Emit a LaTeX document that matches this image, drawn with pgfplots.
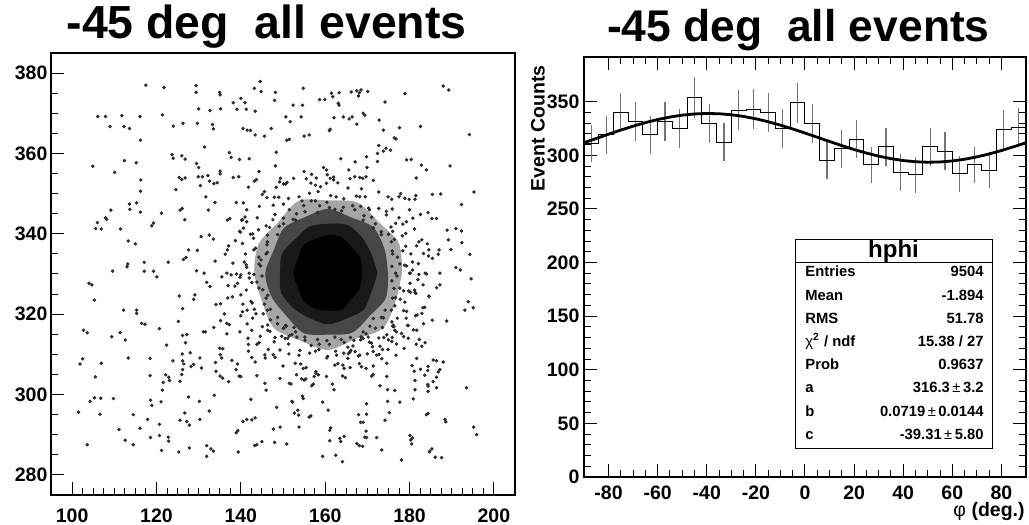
\documentclass[border=0pt]{standalone}
\usepackage{fontspec}
\setmainfont{Liberation Sans}
\usepackage{pgfplots}
\pgfplotsset{compat=1.18}
\usepackage{pgfplotstable}

\newcommand\tickfont{\fontsize{9.75pt}{11pt}\selectfont\bfseries}
\newcommand\statfont{\fontsize{7.4pt}{9pt}\selectfont\bfseries}

% scatter points (x, y)
\pgfplotstableread{
x y
117.5 377.0
121.8 376.4
129.4 376.9
129.4 375.2
135.0 375.2
135.1 374.6
144.6 377.9
144.8 375.4
143.2 376.2
148.2 375.2
154.8 376.2
158.7 373.4
159.9 373.4
161.5 375.0
161.8 374.1
163.3 375.1
166.2 375.3
167.5 375.6
168.1 375.1
168.5 375.8
170.1 375.4
167.9 374.3
188.0 376.8
189.3 375.8
178.9 374.9
174.2 372.8
138.2 372.6
140.0 373.7
141.0 372.6
141.3 371.0
143.4 370.5
148.0 373.2
152.4 372.0
154.6 372.0
163.1 372.5
163.3 372.0
130.0 371.1
132.7 370.7
135.2 371.1
139.1 371.0
106.1 369.2
107.9 369.2
111.8 369.4
116.1 369.2
121.4 369.6
109.0 366.7
112.3 366.7
113.6 366.2
116.2 363.3
124.0 366.8
126.3 367.5
129.7 367.5
133.3 367.2
133.5 366.1
140.5 366.2
141.5 365.8
142.3 365.7
143.4 364.6
147.2 366.2
145.6 364.3
150.7 369.1
151.7 367.9
154.3 369.1
150.9 363.3
151.5 363.5
155.0 364.3
156.2 364.6
161.0 365.7
161.2 366.0
162.1 368.9
164.3 369.1
165.7 368.6
166.4 369.1
167.5 367.3
169.0 370.0
169.4 369.5
172.8 368.3
173.8 365.8
176.4 363.9
176.8 363.6
177.6 366.4
182.6 366.7
194.2 364.7
104.9 356.8
110.1 355.3
112.4 358.2
115.2 357.7
116.3 353.4
116.2 350.6
113.6 347.4
113.7 346.1
115.3 347.7
116.2 345.4
109.2 345.9
107.9 344.0
108.2 343.6
106.0 342.8
105.6 341.3
106.9 341.2
111.5 341.2
113.3 338.2
115.0 337.5
119.3 342.7
118.9 342.0
121.2 345.1
123.7 359.7
124.0 358.8
126.0 359.4
126.8 358.6
124.6 351.0
125.4 354.0
126.0 353.5
126.8 353.9
125.6 345.9
126.1 346.3
126.7 343.5
129.5 357.5
130.0 356.5
131.4 361.6
129.9 354.2
130.9 354.2
132.2 354.5
132.6 353.1
133.6 352.5
134.4 352.7
130.4 352.0
131.7 349.2
135.1 355.6
135.1 354.9
133.9 347.8
132.3 345.9
137.3 360.2
137.7 359.0
139.7 358.5
142.0 358.7
138.2 354.0
139.5 354.2
141.8 351.6
143.2 353.1
143.7 353.5
144.3 355.5
138.9 347.8
140.6 347.7
145.1 349.8
145.6 350.5
147.9 349.1
148.4 351.6
150.1 352.4
150.6 352.4
151.0 352.8
149.4 353.8
148.4 360.3
148.2 356.9
156.6 352.6
156.8 354.8
155.0 355.5
159.6 356.5
160.5 354.7
161.2 353.8
162.0 354.1
162.0 353.4
157.7 352.1
158.9 351.7
163.7 358.7
165.6 355.9
167.1 357.9
167.0 354.2
168.6 351.2
168.2 354.0
169.7 354.2
169.9 356.5
169.8 359.2
172.7 362.0
173.8 360.6
172.4 358.0
172.4 360.0
174.4 361.3
175.5 360.8
179.3 358.4
180.4 358.5
181.6 353.9
182.8 357.1
184.0 355.9
185.4 349.8
187.4 349.9
189.6 356.9
195.3 350.4
192.3 347.3
177.9 350.0
178.9 348.8
179.9 348.6
181.3 348.6
181.5 349.5
175.8 348.6
177.5 349.2
176.7 342.6
178.4 342.4
179.3 343.0
182.6 344.8
184.4 345.3
185.3 343.8
186.4 343.8
188.9 340.9
192.3 340.7
191.0 341.3
189.2 338.5
192.4 337.8
194.3 334.9
186.8 334.9
187.0 336.0
189.8 336.1
191.0 331.6
192.0 331.0
194.6 328.8
187.2 330.2
183.3 335.1
184.5 334.5
185.4 333.9
182.9 338.5
184.2 337.5
180.7 331.0
182.2 329.9
184.0 330.0
179.3 332.0
104.0 327.7
104.7 327.3
109.6 330.7
113.0 331.8
113.2 332.5
117.1 330.7
117.1 332.9
119.3 330.7
120.1 329.3
122.8 332.9
126.4 333.6
127.0 334.1
127.6 336.0
129.7 335.9
130.6 339.3
132.5 339.7
133.5 338.7
129.5 330.8
131.3 330.2
133.9 333.2
136.3 334.9
137.1 337.0
138.7 338.3
136.8 343.4
137.4 343.8
140.2 343.4
141.0 344.2
141.4 343.0
139.7 340.6
140.6 341.4
142.3 339.9
135.5 329.3
136.7 330.2
139.8 329.2
138.6 327.0
139.2 327.7
141.4 331.7
142.0 330.2
144.8 333.5
105.3 323.5
112.2 321.0
115.3 321.0
115.3 320.2
116.5 317.7
117.3 317.5
102.7 316.0
103.6 315.4
111.4 315.4
109.4 314.4
112.6 313.6
120.7 316.4
102.5 308.9
101.9 307.6
106.9 307.8
113.3 309.1
105.5 304.4
104.3 298.3
105.3 299.2
106.8 299.1
109.8 299.0
101.5 295.6
106.6 295.1
111.1 291.3
114.5 295.0
103.6 287.5
112.6 288.6
114.5 287.5
116.1 291.6
117.9 293.8
118.6 298.6
118.9 297.3
118.5 304.7
118.5 309.0
118.6 289.3
120.7 292.6
120.7 289.8
121.2 286.1
121.1 298.2
121.4 301.1
121.6 303.0
122.2 304.9
122.9 304.3
123.1 303.5
122.4 312.3
122.8 289.4
122.9 288.4
123.9 308.4
125.2 318.2
126.2 321.4
125.4 324.5
125.6 303.3
126.0 305.0
126.2 308.4
126.5 307.6
126.2 306.2
126.2 314.7
127.2 314.9
126.9 312.9
126.1 310.1
126.7 295.4
127.2 293.3
125.6 293.6
125.3 285.7
127.6 299.4
127.8 292.4
127.8 286.7
128.0 310.4
128.8 307.5
128.2 307.0
128.8 323.7
129.1 324.8
130.3 309.1
130.7 306.6
131.1 315.6
131.6 315.6
130.2 298.3
130.3 293.8
131.9 287.3
132.9 286.5
133.5 285.9
131.9 284.6
132.5 295.9
133.7 299.8
131.9 327.9
132.7 326.9
133.6 316.7
134.0 308.0
134.1 305.8
135.0 311.5
135.7 311.4
135.1 309.9
135.5 309.1
135.1 304.6
135.7 304.1
134.1 322.4
135.2 322.6
135.2 318.4
136.1 320.1
136.7 317.7
137.3 317.4
136.7 315.1
137.1 303.2
138.0 324.3
137.9 308.5
138.9 306.2
139.2 307.6
139.8 315.6
139.6 304.6
140.0 304.5
138.9 290.5
139.3 291.0
139.4 285.7
140.5 293.3
141.4 293.8
142.6 293.7
142.4 298.8
143.4 294.2
142.6 309.2
143.4 308.1
143.3 287.3
143.8 287.5
143.8 304.7
140.4 320.6
141.5 321.0
141.8 312.5
141.8 310.8
142.6 316.0
143.6 320.1
144.3 312.9
144.6 314.5
145.7 309.9
145.8 309.1
145.7 302.8
146.0 301.1
145.0 288.3
146.4 316.0
147.7 309.9
148.1 309.3
147.7 291.4
148.0 288.1
148.5 296.8
149.3 291.9
149.3 304.0
149.7 314.5
150.5 314.0
150.1 316.5
150.6 317.2
151.5 314.6
152.1 314.9
150.9 287.7
151.5 302.8
151.9 302.6
152.1 298.3
152.3 298.1
152.7 295.4
153.2 304.9
153.5 296.1
153.7 294.9
154.6 299.6
154.8 299.0
153.8 291.9
154.4 303.9
154.2 307.6
154.8 306.5
155.0 303.6
155.4 303.9
156.2 294.4
156.6 294.7
156.8 302.2
157.2 302.6
157.4 304.5
157.8 305.7
158.4 304.9
159.4 298.1
159.4 284.6
160.7 296.1
161.1 291.1
161.3 291.7
161.1 288.5
161.7 302.6
162.1 301.2
162.3 307.3
162.5 284.9
162.5 310.8
163.5 289.1
163.7 288.3
164.1 283.3
164.5 289.6
164.2 307.3
164.5 306.5
164.1 304.6
164.8 304.2
165.4 311.8
165.9 310.6
166.1 311.0
165.5 310.2
167.5 287.8
168.1 287.3
168.9 287.1
167.9 295.0
168.4 293.1
169.0 293.1
168.6 306.9
169.7 306.5
169.7 290.9
169.8 297.7
169.8 295.1
169.4 289.4
169.8 289.3
170.2 314.3
171.0 304.6
171.4 305.0
172.2 289.3
173.0 302.2
173.4 286.2
174.2 293.6
174.6 304.5
174.8 298.3
174.8 301.2
174.6 307.8
175.2 295.5
176.5 301.0
176.8 309.8
177.7 298.1
178.1 283.7
178.7 311.5
180.1 289.8
180.3 288.7
180.7 289.2
180.5 287.7
180.6 307.2
180.9 298.9
181.3 301.2
181.1 305.8
181.7 309.0
181.3 303.5
182.6 306.3
183.6 304.8
184.0 295.0
184.4 295.3
184.4 307.0
184.3 306.0
184.3 302.5
184.4 302.1
184.4 300.8
184.8 285.9
185.3 286.5
184.7 285.7
185.6 308.6
186.4 308.4
185.6 303.2
186.4 304.3
186.1 284.4
187.6 284.3
186.4 301.7
186.8 305.6
187.2 306.2
188.0 308.1
188.4 293.8
188.6 293.2
188.8 318.3
193.5 301.7
193.1 321.0
195.1 321.6
193.9 323.1
195.2 291.9
195.9 290.0
182.9 312.0
183.7 312.9
181.6 312.5
182.3 313.7
183.3 317.6
180.9 316.1
181.7 316.0
181.8 319.8
182.9 320.2
185.4 318.5
186.4 326.6
187.2 327.3
183.6 321.7
184.6 324.5
180.2 325.4
181.3 325.4
178.6 325.8
179.8 325.8
178.6 320.9
179.5 317.2
178.1 315.2
178.6 314.4
176.5 316.0
176.9 315.6
175.8 318.1
176.1 317.3
174.6 314.9
175.0 313.6
175.8 313.2
176.9 312.6
173.0 312.0
173.6 311.2
172.2 309.8
172.8 310.0
171.2 311.9
171.4 310.7
168.5 314.4
169.0 314.0
167.1 310.7
167.9 309.6
177.0 329.5
180.0 330.2
182.0 328.6
177.7 332.5
180.7 333.0
176.0 335.0
178.4 335.8
181.7 337.0
175.7 338.0
178.3 339.5
173.3 339.8
175.6 341.7
171.9 342.5
174.5 345.6
169.0 343.4
170.5 346.0
167.0 346.0
168.2 349.2
163.9 345.7
164.4 348.7
161.0 346.5
161.3 349.5
158.2 345.3
157.7 348.2
155.2 345.5
153.8 349.2
153.0 343.4
151.5 346.0
150.1 342.5
148.1 344.8
148.7 339.8
146.0 342.0
146.3 338.0
142.8 340.0
146.0 335.0
143.1 336.0
144.3 332.5
140.8 333.0
145.0 329.5
142.0 329.0
139.0 330.0
144.3 326.5
141.3 326.0
146.0 324.0
142.7 322.8
146.3 321.0
142.8 319.0
148.7 319.2
146.4 317.3
150.1 316.5
148.1 314.2
153.0 315.6
151.3 312.6
155.2 313.5
153.8 309.8
158.2 313.7
157.7 310.8
161.0 312.5
160.6 309.5
163.8 313.7
164.4 310.3
166.8 313.5
168.2 309.8
169.0 315.6
170.5 313.0
171.9 316.5
173.9 314.2
173.3 319.2
176.0 317.0
175.7 321.0
179.2 319.0
176.0 324.0
178.9 323.0
177.7 326.5
181.2 326.0
176.7 330.2
180.2 330.2
183.7 330.2
177.1 334.2
180.3 335.0
184.6 336.0
176.4 338.6
179.1 340.1
181.2 341.2
173.3 340.5
177.5 344.0
180.0 346.0
171.0 344.1
172.7 346.3
174.9 349.2
168.4 346.8
169.5 349.2
171.4 353.3
164.3 346.6
165.4 351.4
165.9 353.7
160.4 347.8
160.3 352.6
160.3 355.9
156.7 348.2
156.3 350.1
155.5 353.7
153.2 345.0
151.3 348.8
149.2 352.9
150.1 343.9
147.7 347.1
146.2 349.0
146.8 341.6
143.9 344.0
141.4 346.0
146.2 337.3
143.0 338.9
139.9 340.4
144.3 334.2
141.1 335.0
136.8 336.0
143.1 329.9
140.0 329.8
137.7 329.8
145.2 326.1
140.0 324.8
136.9 324.0
145.6 322.5
143.2 321.2
140.0 319.6
147.0 318.6
145.1 316.9
141.7 314.0
150.8 317.0
147.9 313.1
146.5 311.2
153.3 314.3
151.4 310.1
150.0 307.1
156.7 312.2
156.3 310.3
155.5 306.7
160.4 313.4
160.4 309.1
160.3 304.5
164.5 313.0
165.4 309.0
165.9 306.7
168.4 313.6
170.0 310.1
171.4 307.1
170.6 317.0
172.7 314.1
174.9 311.2
173.8 319.1
176.3 316.9
179.7 314.0
176.5 322.1
179.3 320.7
181.4 319.6
176.3 326.4
181.5 325.2
184.6 324.4
175.8 331.9
178.8 332.2
182.1 332.6
175.9 335.7
179.1 336.9
182.2 338.0
175.0 339.9
176.0 340.6
180.8 343.9
171.4 341.5
174.5 344.7
175.9 346.2
169.2 344.5
170.3 346.4
172.7 350.4
166.5 347.0
167.4 349.4
168.9 353.8
162.3 346.1
162.6 349.2
163.0 352.7
158.7 347.0
158.3 350.5
157.9 353.9
154.9 347.0
154.5 348.2
152.5 353.8
152.4 343.6
150.1 347.4
149.0 349.1
149.1 341.9
147.6 343.5
144.4 346.8
146.3 339.7
144.2 341.0
140.4 343.5
146.3 335.4
143.5 336.4
140.4 337.6
144.7 332.0
141.3 332.3
138.1 332.7
143.8 328.0
142.6 327.9
137.0 327.1
146.4 324.7
142.4 323.2
140.5 322.5
147.0 321.2
145.3 320.1
141.5 317.6
148.7 317.6
146.9 315.7
143.8 312.5
152.6 316.7
151.1 314.0
149.3 311.1
155.2 314.3
154.0 311.0
152.9 307.8
158.6 312.5
158.5 311.2
157.8 305.3
162.3 314.3
162.7 309.8
163.0 307.7
166.0 314.2
166.6 312.1
168.1 307.7
169.7 315.1
171.0 312.8
173.4 308.9
171.4 318.9
173.6 316.7
175.9 314.2
174.2 321.0
177.1 319.0
179.7 317.2
176.7 324.1
177.8 323.7
183.2 321.6
175.8 328.3
180.1 327.7
183.2 327.3
}\scatterdata

% histogram: left bin edge, counts
\pgfplotstableread{
x y
-90 311
-84 319
-78 340
-72 332
-66 319
-60 332
-54 325
-48 354
-42 330
-36 312
-30 342
-24 343
-18 340
-12 325
-6 349
0 330
6 295
12 306
18 315
24 291
30 308
36 284
42 282
48 308
54 304
60 283
66 291
72 286
78 324
84 326
90 326
}\histdata

% bin centres, counts, errors
\pgfplotstableread{
x y e
-87 311 17.6
-81 319 17.9
-75 340 18.4
-69 332 18.2
-63 319 17.9
-57 332 18.2
-51 325 18.0
-45 354 18.8
-39 330 18.2
-33 312 17.7
-27 342 18.5
-21 343 18.5
-15 340 18.4
-9 325 18.0
-3 349 18.7
3 330 18.2
9 295 17.2
15 306 17.5
21 315 17.7
27 291 17.1
33 308 17.5
39 284 16.9
45 282 16.8
51 308 17.5
57 304 17.4
63 283 16.8
69 291 17.1
75 286 16.9
81 324 18.0
87 326 18.1
}\errdata

% fitted curve values
\pgfplotstableread{
x y
-90 311.81
-85 315.75
-80 319.71
-75 323.56
-70 327.19
-65 330.50
-60 333.37
-55 335.71
-50 337.48
-45 338.59
-40 339.03
-35 338.78
-30 337.85
-25 336.26
-20 334.07
-15 331.33
-10 328.14
-5 324.59
0 320.79
5 316.85
10 312.89
15 309.04
20 305.41
25 302.10
30 299.23
35 296.89
40 295.12
45 294.01
50 293.57
55 293.82
60 294.75
65 296.34
70 298.53
75 301.27
80 304.46
85 308.01
90 311.81
}\fitdata

\begin{document}
\begin{tikzpicture}
\useasboundingbox (0,0) rectangle (514.5pt,262.5pt);
\pgfplotsset{rootstyle/.style={
  scale only axis, tick align=inside,
  major tick length=6.25pt, minor tick length=3.3pt,
  every tick/.style={black, line width=0.5pt},
  axis line style={line width=0.6pt},
  tick label style={font=\tickfont},
  /pgf/number format/assume math mode=true,
  /pgf/number format/1000 sep={}}}

% ---------- left: scatter ----------
\begin{axis}[rootstyle, at={(25.5pt,15pt)}, anchor=south west,
  width=232pt, height=221pt,
  xmin=95, xmax=205, ymin=275, ymax=385,
  xtick={100,120,...,200}, ytick={280,300,...,380},
  minor x tick num=7, minor y tick num=3,
  xtick pos=left, ytick pos=left,
  xticklabel style={yshift=-3.25pt}, yticklabel style={xshift=1.75pt}]
\addplot[smooth, fill=black!35, draw=none] coordinates {(178.2,330.2) (177.5,337.6) (172.7,342.9) (167.6,347.8) (160.7,348.3) (153.7,348.2) (148.8,342.8) (144.2,337.4) (143.2,330.2) (145.0,323.3) (147.8,316.6) (154.1,313.4) (160.7,311.1) (167.1,313.8) (173.7,316.5) (176.7,323.2) (178.2,330.2)};
\addplot[smooth, fill=black!72, draw=none] coordinates {(174.9,330.2) (174.1,336.1) (171.4,341.6) (166.1,344.1) (160.7,346.2) (155.3,344.2) (150.2,341.4) (147.8,335.9) (145.8,330.2) (147.3,324.3) (150.8,319.6) (154.9,315.3) (160.7,314.9) (166.4,315.4) (170.6,319.6) (174.4,324.1) (174.9,330.2)};
\addplot[smooth, fill=black!90, draw=none] coordinates {(172.4,330.2) (171.0,334.8) (168.8,339.0) (165.3,342.2) (160.7,342.5) (156.3,341.8) (152.9,338.7) (149.8,335.1) (149.3,330.2) (149.6,325.2) (152.6,321.4) (156.4,319.0) (160.7,317.45) (165.0,318.9) (169.1,321.1) (171.0,325.6) (172.4,330.2)};
\addplot[smooth, fill=black, draw=none] coordinates {(168.7,330.2) (168.3,334.0) (166.2,336.7) (163.8,339.2) (160.7,339.7) (157.7,338.7) (154.8,337.2) (153.5,333.8) (152.5,330.2) (153.5,326.7) (154.9,323.3) (157.6,321.4) (160.7,320.9) (163.9,321.1) (166.2,323.7) (168.2,326.5) (168.7,330.2)};
\addplot[only marks, mark=*, mark size=0.65pt, black!85, mark options={draw=black!85, fill=black!70}] table[x=x,y=y] {\scatterdata};
\end{axis}

% ---------- right: histogram ----------
\begin{axis}[rootstyle, at={(292pt,24pt)}, anchor=south west,
  width=221pt, height=210pt,
  xmin=-90, xmax=90, ymin=0, ymax=391.7,
  xtick={-80,-60,...,80}, ytick={0,50,...,350},
  minor x tick num=3, minor y tick num=4,
  xticklabel style={yshift=-0.75pt}, yticklabel style={xshift=1.25pt}]
\addplot[draw=none, mark=none,
  error bars/.cd, y dir=both, y explicit, error mark=none,
  error bar style={draw=black!55, line width=0.6pt}]
  table[x=x, y=y, y error=e] {\errdata};
\addplot[const plot, black, line width=0.5pt] table[x=x,y=y] {\histdata};
\addplot[black, line width=1.4pt] table[x=x,y=y] {\fitdata};
\end{axis}

% titles and labels
\node[font=\fontsize{23.2pt}{26pt}\selectfont\bfseries, anchor=base] at (133.3pt,243pt) {-45 deg\ \ all events};
\node[font=\fontsize{22.2pt}{25pt}\selectfont\bfseries, anchor=base] at (399.2pt,241.5pt) {-45 deg\ \ all events};
\node[font=\tickfont, rotate=90, anchor=east, inner sep=0pt] at (269pt,230pt) {Event Counts};
\node[font=\tickfont, anchor=east, inner sep=0pt] at (512.5pt,6.75pt) {{\mdseries φ} (deg.)};

% stats box
\draw[line width=0.5pt, fill=white] (397.5pt,38.35pt) rectangle (496pt,142.5pt);
\draw[line width=0.5pt] (397.5pt,131pt) -- (496pt,131pt);
\node[font=\fontsize{12pt}{14pt}\selectfont\bfseries] at (446.75pt,136.9pt) {hphi};
\begin{scope}[every node/.style={font=\statfont, inner sep=0pt}]
\node[anchor=mid west] at (402.5pt,126.65pt) {Entries};
\node[anchor=mid east] at (492pt,126.65pt) {9504};
\node[anchor=mid west] at (402.5pt,115.05pt) {Mean};
\node[anchor=mid east] at (492pt,115.05pt) {-1.894};
\node[anchor=mid west] at (402.5pt,103.45pt) {RMS};
\node[anchor=mid east] at (492pt,103.45pt) {51.78};
\node[anchor=mid west] at (402.5pt,91.85pt) {{\mdseries χ}\textsuperscript{2} / ndf};
\node[anchor=mid east] at (492pt,91.85pt) {15.38 / 27};
\node[anchor=mid west] at (402.5pt,80.25pt) {Prob};
\node[anchor=mid east] at (492pt,80.25pt) {0.9637};
\node[anchor=mid west] at (402.5pt,68.65pt) {a};
\node[anchor=mid east] at (492pt,68.65pt) {316.3{\mdseries\,±\,}3.2};
\node[anchor=mid west] at (402.5pt,57.05pt) {b};
\node[anchor=mid east] at (492pt,57.05pt) {0.0719{\mdseries\,±\,}0.0144};
\node[anchor=mid west] at (402.5pt,45.45pt) {c};
\node[anchor=mid east] at (492pt,45.45pt) {-39.31{\mdseries\,±\,}5.80};
\end{scope}
\end{tikzpicture}
\end{document}
